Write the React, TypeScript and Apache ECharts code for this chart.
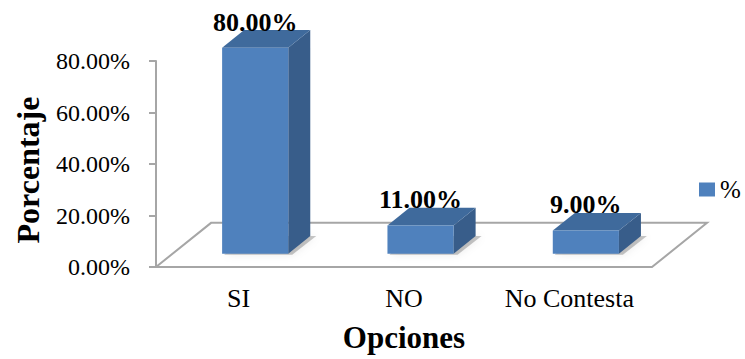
import React, { useEffect, useRef } from "react";
import * as echarts from "echarts";

const categories = ["SI", "NO", "No Contesta"];
const percentages = [80, 11, 9];
const seriesName = "%";
const axisTitleX = "Opciones";
const axisTitleY = "Porcentaje";

const FONT = "Liberation Serif";
const FRONT = "#4f81bd";
const SIDE = "#385d8a";
const TOP = "#3f6a9c";
const GRID_LINE = "#a6a6a6";

// Depth of the floor, as a fraction of one category band
const FLOOR_DX = 0.333;
const FLOOR_DY = -0.267;

const plainText = (size: number) => ({
  fontFamily: FONT,
  fontWeight: "normal" as const,
  fontStyle: "normal" as const,
  fontSize: size,
  color: "#000",
});

export default function App() {
  const ref = useRef<HTMLDivElement>(null);

  useEffect(() => {
    document.body.style.margin = "0";
    const chart = echarts.init(ref.current!, null, { renderer: "svg" });

    const floorItem = (params: any, api: any) => {
      const cs = params.coordSys;
      const bw = api.size([1, 0])[0];
      const fdx = bw * FLOOR_DX;
      const fdy = bw * FLOOR_DY;
      const yb = cs.y + cs.height;
      return {
        type: "polygon",
        shape: {
          points: [
            [cs.x, yb],
            [cs.x + cs.width, yb],
            [cs.x + cs.width + fdx, yb + fdy],
            [cs.x + fdx, yb + fdy],
          ],
        },
        style: { fill: "#ffffff", stroke: GRID_LINE, lineWidth: 2 },
        silent: true,
      };
    };

    const barItem = (params: any, api: any) => {
      const i = api.value(0);
      const v = api.value(1);
      const base = api.coord([i, 0]);
      const top = api.coord([i, v]);
      const bw = api.size([1, 0])[0];
      const fdx = bw * FLOOR_DX;
      const fdy = bw * FLOOR_DY;
      const offX = fdx * 0.3;
      const offY = fdy * 0.3;
      const dx = fdx * 0.4;
      const dy = fdy * 0.4;
      const w = bw * 0.4;
      const x0 = base[0] + offX - w / 2;
      const x1 = x0 + w;
      const yb = base[1] + offY;
      const yt = top[1] + offY;
      return {
        type: "group",
        children: [
          {
            type: "polygon",
            shape: {
              points: [
                [x0 + 2, yb + 1],
                [x1 + 4, yb + 1],
                [x1 + dx + 6, yb + dy],
                [x0 + dx, yb + dy],
              ],
            },
            style: {
              fill: "rgba(0,0,0,0.22)",
              shadowBlur: 8,
              shadowColor: "rgba(0,0,0,0.35)",
            },
          },
          {
            type: "polygon",
            shape: {
              points: [
                [x1, yt],
                [x1 + dx, yt + dy],
                [x1 + dx, yb + dy],
                [x1, yb],
              ],
            },
            style: { fill: SIDE },
          },
          {
            type: "polygon",
            shape: {
              points: [
                [x0, yt],
                [x1, yt],
                [x1 + dx, yt + dy],
                [x0 + dx, yt + dy],
              ],
            },
            style: { fill: TOP },
          },
          {
            type: "rect",
            shape: { x: x0, y: yt, width: w, height: yb - yt },
            style: { fill: FRONT },
          },
          {
            type: "text",
            style: {
              text: v.toFixed(2) + "%",
              x: (x0 + x1) / 2,
              y: yt + dy + 5,
              align: "center",
              verticalAlign: "bottom",
              fontFamily: FONT,
              fontWeight: "bold",
              fontSize: 26,
              fill: "#000",
            },
          },
        ],
      };
    };

    chart.setOption({
      animation: false,
      backgroundColor: "#ffffff",
      textStyle: { fontFamily: FONT },
      grid: { left: 156, right: 93, top: 61, bottom: 92, containLabel: false },
      legend: {
        data: [seriesName],
        left: 699,
        top: 177,
        padding: 0,
        icon: "rect",
        itemWidth: 16,
        itemHeight: 14,
        itemGap: 6,
        textStyle: plainText(25),
        selectedMode: false,
      },
      xAxis: {
        type: "category",
        data: categories,
        name: axisTitleX,
        nameLocation: "middle",
        nameGap: 55,
        nameTextStyle: {
          fontFamily: FONT,
          fontWeight: "bold",
          fontSize: 31,
          color: "#000",
        },
        axisLine: { show: false },
        axisTick: { show: false },
        axisLabel: {
          interval: 0,
          margin: 18,
          ...plainText(26),
        },
        splitLine: { show: false },
      },
      yAxis: {
        type: "value",
        min: 0,
        max: 80,
        interval: 20,
        name: axisTitleY,
        nameLocation: "middle",
        nameRotate: 90,
        nameGap: 112,
        nameTextStyle: {
          fontFamily: FONT,
          fontWeight: "bold",
          fontSize: 32,
          color: "#000",
          padding: [0, 12, 0, 0],
        },
        axisLine: { show: true, lineStyle: { color: GRID_LINE, width: 2 } },
        axisTick: {
          show: true,
          length: 7,
          lineStyle: { color: GRID_LINE, width: 2 },
        },
        axisLabel: {
          margin: 26,
          ...plainText(24),
          formatter: (val: number) => val.toFixed(2) + "%",
        },
        splitLine: { show: false },
      },
      series: [
        {
          type: "custom",
          name: "floor",
          renderItem: floorItem,
          data: [[0, 0]],
          z: 1,
          silent: true,
        },
        {
          type: "custom",
          name: seriesName,
          renderItem: barItem,
          itemStyle: { color: FRONT },
          encode: { x: 0, y: 1 },
          data: categories.map((_, i) => [i, percentages[i]]),
          z: 2,
        },
      ],
    });

    return () => chart.dispose();
  }, []);

  return <div ref={ref} style={{ width: 745, height: 359 }} />;
}
